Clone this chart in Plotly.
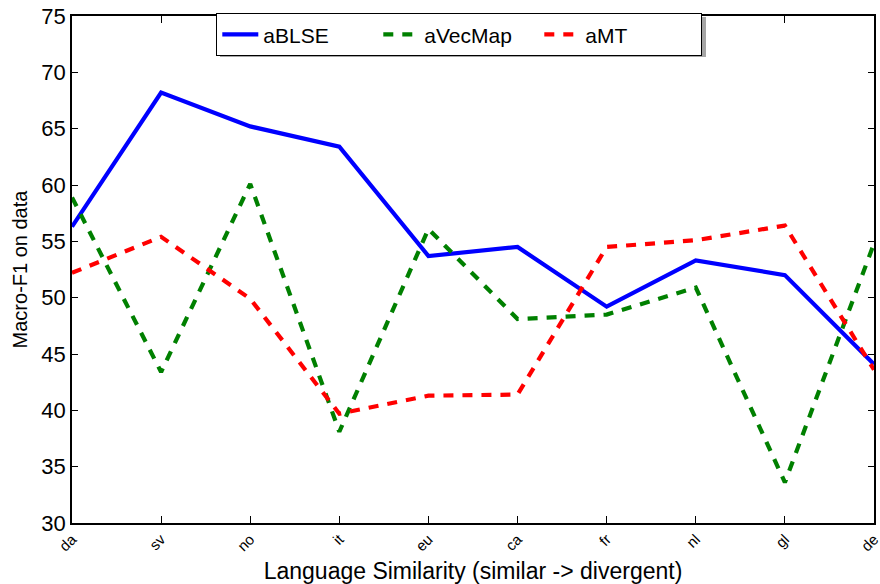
import plotly.graph_objects as go

# Languages ordered from most similar to most divergent
languages = ["da", "sv", "no", "it", "eu", "ca", "fr", "nl", "gl", "de"]

# Macro-F1 scores per model
ablse = [56.3, 68.2, 65.2, 63.4, 53.7, 54.5, 49.2, 53.3, 52.0, 44.1]
avecmap = [58.9, 43.4, 60.1, 38.1, 56.1, 48.1, 48.5, 50.9, 33.6, 54.8]
amt = [52.2, 55.4, 49.9, 39.7, 41.3, 41.4, 54.5, 55.1, 56.4, 43.6]

series = [
    ("aBLSE", ablse, "#0000ff", "solid"),
    ("aVecMap", avecmap, "#008000", "10px,9px"),
    ("aMT", amt, "#ff0000", "10px,9px"),
]

W, H = 880, 584
L, R, T, B = 72, 6, 16, 61
pw, ph = W - L - R, H - T - B

fig = go.Figure()
for name, vals, color, dash in series:
    fig.add_trace(go.Scatter(
        x=list(range(len(languages))), y=vals, name=name, mode="lines",
        line=dict(color=color, width=4.2, dash=dash),
    ))

font = "Liberation Sans, Arial, sans-serif"

# legend box position in pixels, converted to paper coordinates
lg_left, lg_top = 216, 13
lx = (lg_left - L) / pw
ly = (H - B - lg_top) / ph

# drop shadow behind the legend
sh_x0, sh_x1, sh_y0, sh_y1 = 220, 706, 17, 57
fig.add_shape(
    type="rect", xref="paper", yref="paper", layer="above",
    x0=(sh_x0 - L) / pw, x1=(sh_x1 - L) / pw,
    y0=(H - B - sh_y1) / ph, y1=(H - B - sh_y0) / ph,
    fillcolor="#a6a6a6", line=dict(width=0),
)

fig.update_layout(
    width=W, height=H,
    margin=dict(l=L, r=R, t=T, b=B),
    paper_bgcolor="white", plot_bgcolor="white",
    font=dict(family=font, color="black"),
    showlegend=True,
    legend=dict(
        orientation="h", x=lx, y=ly, xanchor="left", yanchor="top",
        bgcolor="white", bordercolor="black", borderwidth=1.3,
        font=dict(size=21, family=font), itemwidth=36,
        entrywidth=110, entrywidthmode="pixels",
    ),
    xaxis=dict(
        range=[0, len(languages) - 1], automargin=False,
        tickmode="array", tickvals=list(range(len(languages))), ticktext=languages,
        tickangle=-45, tickfont=dict(size=15), ticklabeloverflow="allow",
        ticks="inside", ticklen=7, tickcolor="black", tickwidth=1,
        showline=True, linecolor="black", linewidth=1.5, mirror="ticks",
        showgrid=False, zeroline=False,
        title=dict(text="Language Similarity (similar -> divergent)", font=dict(size=23), standoff=9),
    ),
    yaxis=dict(
        range=[30, 75], tickvals=list(range(30, 76, 5)), automargin=False,
        tickfont=dict(size=22),
        ticks="inside", ticklen=6, tickcolor="black", tickwidth=1,
        showline=True, linecolor="black", linewidth=1.5, mirror="ticks",
        showgrid=False, zeroline=False,
        title=dict(text="Macro-F1 on data", font=dict(size=20), standoff=8),
    ),
)

fig.write_html("out.html")
